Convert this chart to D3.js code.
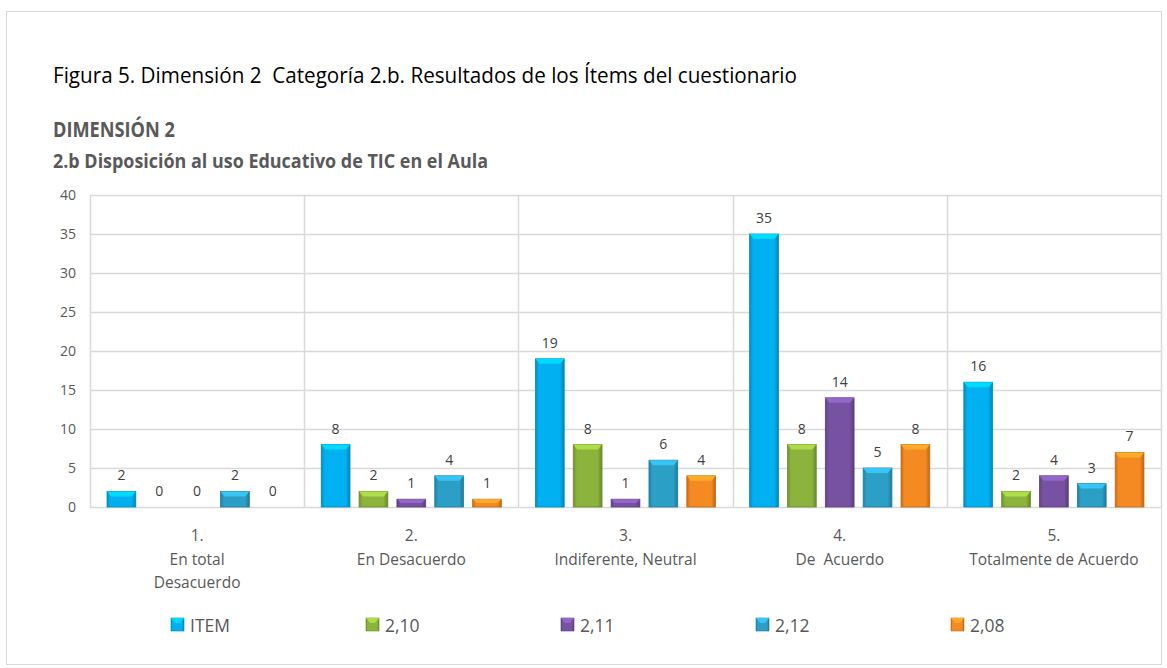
<!DOCTYPE html>
<html>
<head>
<meta charset="utf-8">
<script src="https://cdn.jsdelivr.net/npm/d3@7"></script>
<style>
  body { margin: 0; background: #fff; }
  svg text { font-family: "Open Sans", "Noto Sans", sans-serif; white-space: pre; }
</style>
</head>
<body>
<div id="chart"></div>
<script>
// categories (one entry per line of the label)
var categories = [
  ['1.', 'En total', 'Desacuerdo'],
  ['2.', 'En Desacuerdo'],
  ['3.', 'Indiferente, Neutral'],
  ['4.', 'De  Acuerdo'],
  ['5.', 'Totalmente de Acuerdo']
];
var seriesNames = ['ITEM', '2,10', '2,11', '2,12', '2,08'];
var itemValues = [2, 8, 19, 35, 16];
var v210 = [0, 2, 8, 8, 2];
var v211 = [0, 1, 1, 14, 4];
var v212 = [2, 4, 6, 5, 3];
var v208 = [0, 1, 4, 8, 7];
var yTicks = [0, 5, 10, 15, 20, 25, 30, 35, 40];
var colors = ['#00B0F0', '#8CB33C', '#7852A2', '#2C9FC6', '#F58A22'];

var seriesValues = [itemValues, v210, v211, v212, v208];

var W = 1167, H = 668;
var margin = { left: 90, right: 6, top: 195, bottom: 161 };
var w = W - margin.left - margin.right;
var h = H - margin.top - margin.bottom;

var svg = d3.select('#chart').append('svg')
  .attr('width', W)
  .attr('height', H);

// outer chart border
svg.append('rect')
  .attr('x', 6.5).attr('y', 11.5)
  .attr('width', 1155).attr('height', 653)
  .attr('fill', 'none')
  .attr('stroke', '#d9d9d9');

// titles
svg.append('text')
  .attr('x', 53).attr('y', 83)
  .attr('font-size', 22)
  .attr('fill', '#000')
  .attr('textLength', 744).attr('lengthAdjust', 'spacingAndGlyphs')
  .text('Figura 5. Dimensión 2  Categoría 2.b. Resultados de los Ítems del cuestionario');
svg.append('text')
  .attr('x', 53).attr('y', 137)
  .attr('font-size', 21).attr('font-weight', 'bold')
  .attr('fill', '#595959')
  .attr('textLength', 122).attr('lengthAdjust', 'spacingAndGlyphs')
  .text('DIMENSIÓN 2');
svg.append('text')
  .attr('x', 53).attr('y', 168)
  .attr('font-size', 20).attr('font-weight', 'bold')
  .attr('fill', '#595959')
  .attr('textLength', 435).attr('lengthAdjust', 'spacingAndGlyphs')
  .text('2.b Disposición al uso Educativo de TIC en el Aula');

var g = svg.append('g')
  .attr('transform', 'translate(' + margin.left + ',' + margin.top + ')');

var x0 = d3.scaleBand().domain(d3.range(categories.length)).range([0, w]).padding(0);
var x1 = d3.scaleBand().domain(d3.range(seriesNames.length))
  .range([0, x0.bandwidth()]).paddingInner(0.24).paddingOuter(0.45);
var y = d3.scaleLinear().domain([0, 40]).range([h, 0]);

// horizontal gridlines
g.selectAll('.hgrid').data(yTicks).enter().append('line')
  .attr('x1', 0).attr('x2', w)
  .attr('y1', function(d) { return Math.round(y(d)) + 0.5; })
  .attr('y2', function(d) { return Math.round(y(d)) + 0.5; })
  .attr('stroke', '#d9d9d9').attr('stroke-width', 1.5);

// vertical category separators
g.selectAll('.vgrid').data(d3.range(categories.length + 1)).enter().append('line')
  .attr('x1', function(d) { return Math.round(d * x0.step()) + 0.5; })
  .attr('x2', function(d) { return Math.round(d * x0.step()) + 0.5; })
  .attr('y1', 0).attr('y2', h)
  .attr('stroke', '#d9d9d9').attr('stroke-width', 1.5);

// y axis labels
var yAxis = d3.axisLeft(y).tickValues(yTicks).tickSize(0).tickPadding(14);
var ya = g.append('g').call(yAxis);
ya.select('.domain').remove();
ya.selectAll('text').attr('font-size', 14).attr('fill', '#595959')
  .attr('font-family', '"Open Sans", sans-serif');

// gradients for the bevelled bar look
var defs = svg.append('defs');
colors.forEach(function(c, i) {
  var grad = defs.append('linearGradient').attr('id', 'grad' + i)
    .attr('x1', '0%').attr('x2', '100%').attr('y1', '0%').attr('y2', '0%');
  grad.append('stop').attr('offset', '0%').attr('stop-color', d3.color(c).darker(0.6));
  grad.append('stop').attr('offset', '12%').attr('stop-color', c);
  grad.append('stop').attr('offset', '85%').attr('stop-color', c);
  grad.append('stop').attr('offset', '100%').attr('stop-color', d3.color(c).darker(0.8));
});

var rows = [];
categories.forEach(function(cat, ci) {
  seriesNames.forEach(function(s, si) {
    rows.push({ ci: ci, si: si, v: seriesValues[si][ci] });
  });
});

var bars = g.selectAll('.bar').data(rows).enter().append('g');

bars.filter(function(d) { return d.v > 0; }).each(function(d) {
  var sel = d3.select(this);
  var bx = x0(d.ci) + x1(d.si);
  var bw = x1.bandwidth();
  var top = y(d.v);
  sel.append('rect')
    .attr('x', bx).attr('y', top)
    .attr('width', bw).attr('height', h - top)
    .attr('fill', 'url(#grad' + d.si + ')')
    .attr('stroke', d3.color(colors[d.si]).darker(0.7))
    .attr('stroke-width', 0.8);
  var cap = Math.min(5, (h - top) / 2);
  sel.append('path')
    .attr('d', 'M' + bx + ',' + top + 'L' + (bx + bw) + ',' + top +
      'L' + (bx + bw - 4) + ',' + (top + cap) + 'L' + (bx + 4) + ',' + (top + cap) + 'Z')
    .attr('fill', d3.color(colors[d.si]).brighter(0.6));
});

// value labels
bars.append('text')
  .attr('x', function(d) { return x0(d.ci) + x1(d.si) + x1.bandwidth() / 2; })
  .attr('y', function(d) { return y(d.v) - 11; })
  .attr('text-anchor', 'middle')
  .attr('font-size', 14)
  .attr('fill', '#404040')
  .text(function(d) { return d.v; });

// category labels
var catLabels = g.selectAll('.cat').data(categories).enter().append('text')
  .attr('text-anchor', 'middle')
  .attr('font-size', 15.5)
  .attr('fill', '#595959')
  .attr('transform', function(d, i) {
    return 'translate(' + (x0(i) + x0.bandwidth() / 2) + ',' + (h + 34) + ')';
  });
catLabels.selectAll('tspan').data(function(d) { return d; }).enter().append('tspan')
  .attr('x', 0)
  .attr('dy', function(d, i) { return i === 0 ? 0 : 23.5; })
  .text(function(d) { return d; });

// legend
var legend = svg.append('g').attr('transform', 'translate(171,625)');
var lg = legend.selectAll('.lg').data(seriesNames).enter().append('g')
  .attr('transform', function(d, i) { return 'translate(' + (i * 195) + ',0)'; });
lg.append('rect')
  .attr('x', 0).attr('y', -7)
  .attr('width', 13).attr('height', 13)
  .attr('fill', function(d, i) { return 'url(#grad' + i + ')'; })
  .attr('stroke', function(d, i) { return d3.color(colors[i]).darker(0.7); })
  .attr('stroke-width', 0.6);
lg.append('path')
  .attr('d', 'M0,-7L13,-7L9,-2L4,-2Z')
  .attr('fill', function(d, i) { return d3.color(colors[i]).brighter(0.6); });
lg.append('text')
  .attr('x', 19).attr('y', 6.5)
  .attr('font-size', 17.5)
  .attr('fill', '#595959')
  .text(function(d) { return d; });
</script>
</body>
</html>
